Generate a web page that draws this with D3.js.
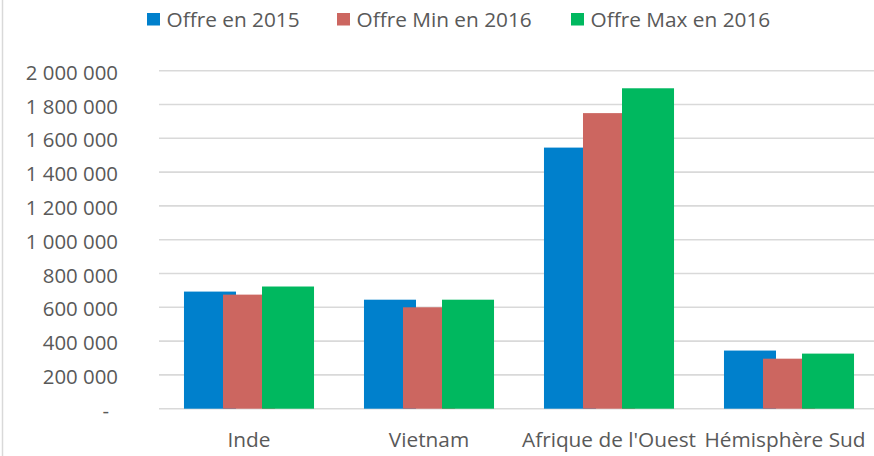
<!DOCTYPE html>
<html>
<head>
<meta charset="utf-8">
<script src="https://cdn.jsdelivr.net/npm/d3@7"></script>
<style>
body{margin:0;background:#fff;}
svg{display:block;font-family:"Open Sans",sans-serif;}
</style>
</head>
<body>
<svg id="chart"></svg>
<script>
let categories=['Inde','Vietnam',"Afrique de l'Ouest",'Hémisphère Sud'];
let series=['Offre en 2015','Offre Min en 2016','Offre Max en 2016'];
let offre2015=[693000,645000,1545000,344000];
let offreMin2016=[675000,600000,1749000,296000];
let offreMax2016=[723000,645000,1896000,326000];
let yTicks=[0,200000,400000,600000,800000,1000000,1200000,1400000,1600000,1800000,2000000];
let colors=['#0080cc','#cc6660','#00b85f'];

let width=874;
let height=456;
let svg=d3.select('#chart').attr('width',width).attr('height',height);
let values=[offre2015,offreMin2016,offreMax2016];

let xScale=d3.scaleBand()
    .domain(categories)
    .range([159,879])
    .paddingInner(0);

let yScale=d3.scaleLinear()
    .domain([0,2000000])
    .range([408.7,70.7]);

// frame line on the left
svg.append('line')
    .attr('x1',2.5).attr('x2',2.5)
    .attr('y1',0).attr('y2',height)
    .attr('stroke','#d9d9d9')
    .attr('stroke-width',1.5);

// grid
svg.append('g')
    .selectAll('line')
    .data(yTicks)
    .enter()
    .append('line')
    .attr('x1',159)
    .attr('x2',width)
    .attr('y1',d=>yScale(d))
    .attr('y2',d=>yScale(d))
    .attr('stroke','#d9d9d9')
    .attr('stroke-width',1.6);

let fmt=d3.formatLocale({decimal:',',thousands:'\u00a0',grouping:[3],currency:['','']}).format(',d');

let yAxis=d3.axisLeft(yScale)
    .tickValues(yTicks)
    .tickSize(0)
    .tickPadding(0)
    .tickFormat(d=>d===0?'-':fmt(d));

let gy=svg.append('g')
    .attr('transform','translate(118,0)')
    .call(yAxis);
gy.select('.domain').remove();
gy.selectAll('text')
    .attr('fill','#595959')
    .style('font-size','20.4px')
    .style('font-family','"Open Sans",sans-serif')
    .attr('dy','0.42em')
    .attr('dx',d=>d===0?-9:0);

// bars
let barW=xScale.bandwidth()*0.289;
let step=barW*0.75;
let groupW=2*step+barW;

series.forEach((s,i)=>{
    svg.append('g')
        .selectAll('rect')
        .data(categories)
        .enter()
        .append('rect')
        .attr('x',c=>xScale(c)+xScale.bandwidth()/2-groupW/2+i*step)
        .attr('width',barW)
        .attr('y',(c,j)=>yScale(values[i][j]))
        .attr('height',(c,j)=>yScale(0)-yScale(values[i][j]))
        .attr('fill',colors[i]);
});

let xAxis=d3.axisBottom(xScale).tickSize(0).tickPadding(0);
let gx=svg.append('g')
    .attr('transform','translate(0,447)')
    .call(xAxis);
gx.select('.domain').remove();
gx.selectAll('text')
    .attr('fill','#595959')
    .attr('dy',0)
    .attr('dx',d=>d==='Hémisphère Sud'?-4:0)
    .style('font-size','20.8px')
    .style('font-family','"Open Sans",sans-serif');

// legend
let legendX=[147,337,571];
let legend=svg.append('g');
series.forEach((s,i)=>{
    legend.append('rect')
        .attr('x',legendX[i])
        .attr('y',13)
        .attr('width',13)
        .attr('height',12.5)
        .attr('fill',colors[i]);
    legend.append('text')
        .attr('x',legendX[i]+19.5)
        .attr('y',27)
        .attr('fill','#595959')
        .style('font-size','20.8px')
        .text(s);
});
</script>
</body>
</html>
